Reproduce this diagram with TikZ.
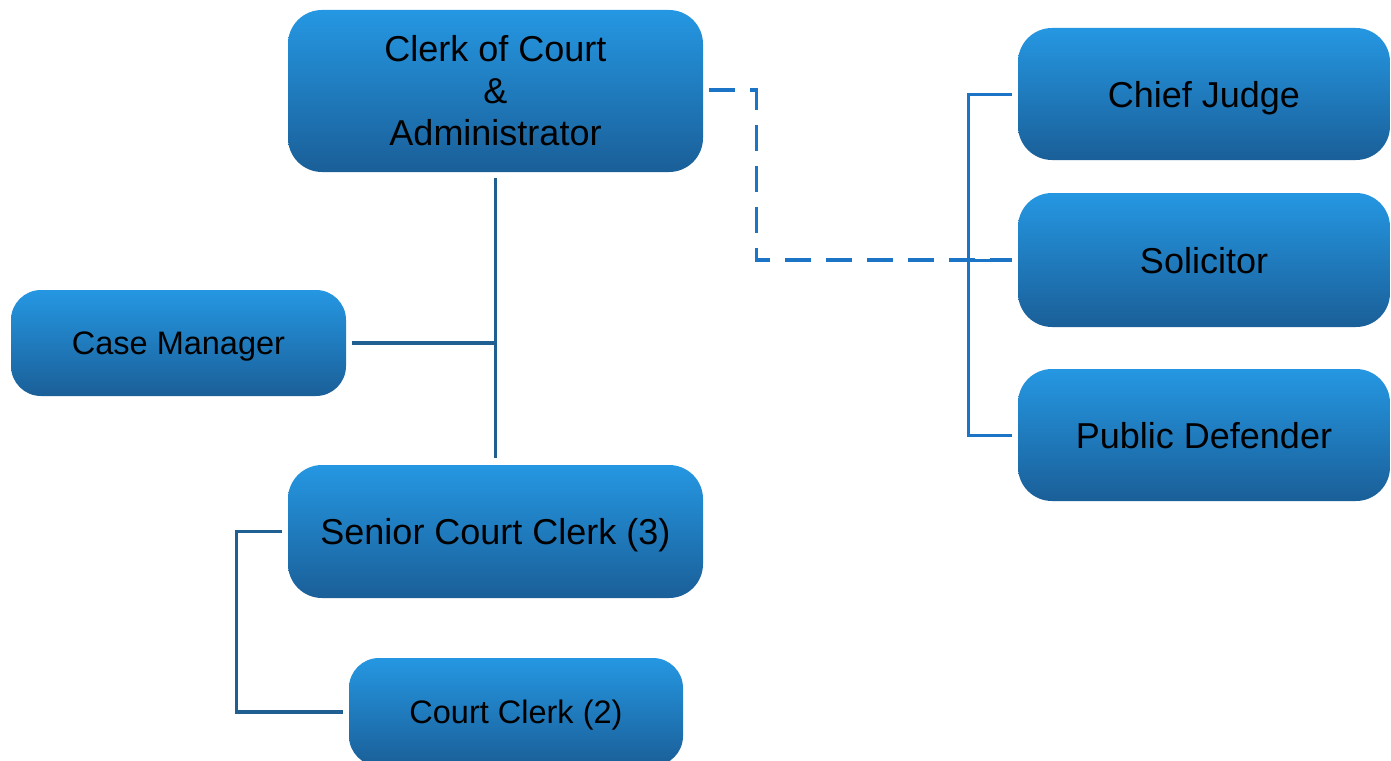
\documentclass[tikz,border=0pt]{standalone}
\usepackage{fontspec}
\setmainfont{Liberation Sans}
\usetikzlibrary{calc}
\definecolor{boxtop}{HTML}{2597E2}
\definecolor{boxbot}{HTML}{1A5F98}
\definecolor{darkline}{HTML}{1F5F92}
\definecolor{brightline}{HTML}{1C74C6}
\tikzset{
  orgbox/.style={rounded corners=34pt, top color=boxtop, bottom color=boxbot,
    draw=none, inner sep=0pt, align=center, font=\fontsize{36}{43}\selectfont},
  oneline/.style={text height=26pt, text depth=0pt},
  smallbox/.style={orgbox, rounded corners=30pt, font=\fontsize{32.5}{38}\selectfont,
    text height=23.5pt, text depth=0pt},
  darkconn/.style={draw=darkline, line width=3.3pt},
  brightconn/.style={draw=brightline, line width=3pt},
  dashconn/.style={draw=brightline, line width=3.4pt, dash pattern=on 26pt off 15pt}
}
\begin{document}
\begin{tikzpicture}[x=1pt,y=-1pt]
\useasboundingbox (0,0) rectangle (1391,760);
\node[orgbox, minimum width=415pt, minimum height=162pt] (clerk) at (495.5,91) {Clerk of Court\\[-1pt]\&\\[-1pt]Administrator};
\node[orgbox, oneline, minimum width=372pt, minimum height=132pt] (judge) at (1204,94) {Chief Judge};
\node[orgbox, oneline, minimum width=372pt, minimum height=134pt] (solic) at (1204,260) {Solicitor};
\node[orgbox, oneline, minimum width=372pt, minimum height=132pt] (pubdef) at (1204,435) {Public Defender};
\node[smallbox, minimum width=335pt, minimum height=106pt] (casemgr) at (178.5,343) {Case Manager};
\node[orgbox, oneline, minimum width=415pt, minimum height=133pt] (senior) at (495.5,531.5) {Senior Court Clerk (3)};
\node[smallbox, minimum width=334pt, minimum height=108pt] (court) at (516,712) {Court Clerk (2)};
% left tree
\draw[darkconn] ($(clerk.south)+(0,6)$) -- ($(senior.north)+(0,-7)$);
\draw[darkconn] ($(casemgr.east)+(6,0)$) -- (casemgr.east -| clerk.south);
\draw[darkconn] ($(senior.west)+(-6,0)$) -- ++(-45,0) |- ($(court.west)+(-6,0)$);
% right bracket
\coordinate (rb) at (968,0);
\draw[brightconn] ($(judge.west)+(-6,0)$) -- (judge.west -| rb) -- (pubdef.west -| rb) -- ($(pubdef.west)+(-6,0)$);
\draw[brightconn] (solic.west -| rb) -- ($(solic.west)+(-6,0)$);
% dashed link
\draw[dashconn] ($(clerk.east)+(6,-1)$) -- ++(47,0) |- ($(solic.west)+(-6,0)$);
\end{tikzpicture}
\end{document}
